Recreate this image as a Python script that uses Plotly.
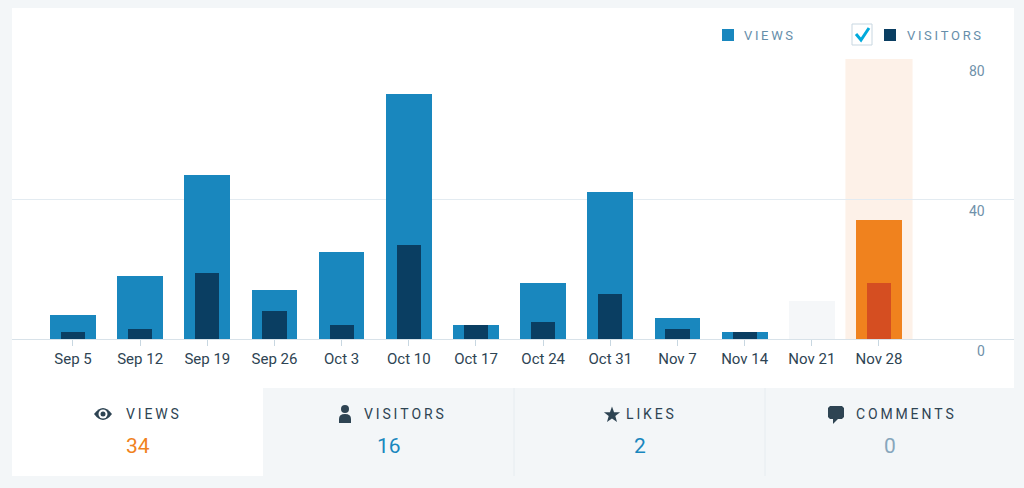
import math
import plotly.graph_objects as go

# --- данные ---
weeks = ['Sep 5', 'Sep 12', 'Sep 19', 'Sep 26', 'Oct 3', 'Oct 10', 'Oct 17',
         'Oct 24', 'Oct 31', 'Nov 7', 'Nov 14', 'Nov 21', 'Nov 28']
views = [7, 18, 47, 14, 25, 70, 4, 16, 42, 6, 2, 0, 34]
visitors = [2, 3, 19, 8, 4, 27, 4, 5, 13, 3, 2, 0, 16]
# пустая неделя показана бледной заглушкой
placeholder = [None, None, None, None, None, None, None, None, None, None, None, 11, None]
y_ticks = [0, 40, 80]
tab_labels = ['VIEWS', 'VISITORS', 'LIKES', 'COMMENTS']
tab_values = [34, 16, 2, 0]
highlight = 'Nov 28'

# --- цвета ---
BLUE = '#1987be'
NAVY = '#0a3e62'
ORANGE = '#f0821e'
RED = '#d54e21'
BG = '#f3f6f8'
DARK = '#2e4453'
GREY_TXT = '#87a6bc'
AXIS_TXT = '#6f91aa'

W, H = 1024, 488
L, R, T, B = 12, 10, 59, 149


def px(x):
    return (x - L) / (W - L - R)


def py(y):
    return (H - B - y) / (H - T - B)


def path(points, close=True):
    s = 'M' + ' L'.join(f'{px(x):.5f},{py(y):.5f}' for x, y in points)
    return s + (' Z' if close else '')


def spaced(t):
    return '\u2009'.join(t)


hi = weeks.index(highlight)
view_colors = [ORANGE if i == hi else BLUE for i in range(len(weeks))]
visitor_colors = [RED if i == hi else NAVY for i in range(len(weeks))]

fig = go.Figure()

fig.add_trace(go.Bar(x=weeks, y=placeholder, width=0.68, marker=dict(color='#f5f7f9', line=dict(width=0)),
                     showlegend=False, hoverinfo='skip'))
fig.add_trace(go.Bar(x=weeks, y=views, name='Views', width=0.68,
                     marker=dict(color=view_colors, line=dict(width=0)), showlegend=False))
fig.add_trace(go.Bar(x=weeks, y=visitors, name='Visitors', width=0.36,
                     marker=dict(color=visitor_colors, line=dict(width=0)), showlegend=False))

shapes = []
# белые панели
shapes.append(dict(type='rect', xref='paper', yref='paper', x0=px(12), x1=px(1014), y0=py(8), y1=py(388),
                   fillcolor='white', line=dict(width=0), layer='below'))
shapes.append(dict(type='rect', xref='paper', yref='paper', x0=px(12), x1=px(263), y0=py(388), y1=py(476),
                   fillcolor='white', line=dict(width=0), layer='below'))
for sx in [514, 765]:
    shapes.append(dict(type='line', xref='paper', yref='paper', x0=px(sx), x1=px(sx), y0=py(388), y1=py(476),
                       line=dict(color='#e6ecf0', width=1), layer='below'))
# подсветка текущей недели
shapes.append(dict(type='rect', xref='x', yref='paper', x0=hi - 0.5, x1=hi + 0.5, y0=0, y1=1,
                   fillcolor='#fdf1e8', line=dict(width=0), layer='below'))

# легенда
shapes.append(dict(type='rect', xref='paper', yref='paper', x0=px(722), x1=px(734), y0=py(41), y1=py(29),
                   fillcolor=BLUE, line=dict(width=0)))
shapes.append(dict(type='rect', xref='paper', yref='paper', x0=px(852), x1=px(872), y0=py(45), y1=py(24),
                   fillcolor='white', line=dict(color='#c8d7e1', width=1)))
shapes.append(dict(type='path', xref='paper', yref='paper', path=path([(856, 34), (861, 40), (869, 28)], close=False),
                   line=dict(color='#00aadc', width=3)))
shapes.append(dict(type='rect', xref='paper', yref='paper', x0=px(884), x1=px(896), y0=py(41), y1=py(29),
                   fillcolor=NAVY, line=dict(width=0)))

# иконки вкладок
eye = f'M{px(94):.5f},{py(414):.5f} Q{px(103):.5f},{py(402):.5f} {px(112):.5f},{py(414):.5f} ' \
      f'Q{px(103):.5f},{py(426):.5f} {px(94):.5f},{py(414):.5f} Z'
shapes.append(dict(type='path', xref='paper', yref='paper', path=eye, fillcolor=DARK, line=dict(width=0)))
shapes.append(dict(type='circle', xref='paper', yref='paper', x0=px(98.5), x1=px(107.5), y0=py(418.5), y1=py(409.5),
                   fillcolor='white', line=dict(width=0)))
shapes.append(dict(type='circle', xref='paper', yref='paper', x0=px(100.5), x1=px(105.5), y0=py(416.5), y1=py(411.5),
                   fillcolor=DARK, line=dict(width=0)))

shapes.append(dict(type='circle', xref='paper', yref='paper', x0=px(341), x1=px(349), y0=py(413), y1=py(405),
                   fillcolor=DARK, line=dict(width=0)))
body = f'M{px(339):.5f},{py(423):.5f} L{px(339):.5f},{py(419):.5f} Q{px(339):.5f},{py(414):.5f} ' \
       f'{px(345):.5f},{py(414):.5f} Q{px(351):.5f},{py(414):.5f} {px(351):.5f},{py(419):.5f} ' \
       f'L{px(351):.5f},{py(423):.5f} Z'
shapes.append(dict(type='path', xref='paper', yref='paper', path=body, fillcolor=DARK, line=dict(width=0)))

star_pts = []
for k in range(10):
    r = 8.5 if k % 2 == 0 else 3.5
    a = -math.pi / 2 + k * math.pi / 5
    star_pts.append((612 + r * math.cos(a), 415 + r * math.sin(a)))
shapes.append(dict(type='path', xref='paper', yref='paper', path=path(star_pts), fillcolor=DARK, line=dict(width=0)))

bubble = [(830, 406), (842, 406), (844, 408), (844, 417), (842, 419), (838, 419), (833, 424),
          (833, 419), (830, 419), (828, 417), (828, 408)]
shapes.append(dict(type='path', xref='paper', yref='paper', path=path(bubble), fillcolor=DARK, line=dict(width=0)))

annotations = [
    dict(text=spaced('VIEWS'), x=px(742), y=py(35), xanchor='left', yanchor='middle'),
    dict(text=spaced('VISITORS'), x=px(905), y=py(35), xanchor='left', yanchor='middle'),
]
for a in annotations:
    a.update(xref='paper', yref='paper', showarrow=False, font=dict(size=13, color='#668eaa'))

# подписи оси Y — под линиями сетки, справа
for t in y_ticks:
    annotations.append(dict(text=str(t), x=px(987), y=t, xref='paper', yref='y', showarrow=False,
                            xanchor='right', yanchor='middle', yshift=-12,
                            font=dict(size=14, color=AXIS_TXT)))

label_x = [152, 404, 650, 905]
value_x = [137.5, 388.5, 639.5, 889.5]
value_colors = [ORANGE, BLUE, BLUE, GREY_TXT]
for lab, val, lx, vx, vc in zip(tab_labels, tab_values, label_x, value_x, value_colors):
    annotations.append(dict(text=spaced(lab), x=px(lx), y=py(414), xref='paper', yref='paper', showarrow=False,
                            xanchor='center', yanchor='middle', font=dict(size=14, color=DARK)))
    annotations.append(dict(text=str(val), x=px(vx), y=py(446), xref='paper', yref='paper', showarrow=False,
                            xanchor='center', yanchor='middle', font=dict(size=21, color=vc)))

fig.update_layout(
    width=W, height=H, autosize=False,
    margin=dict(l=L, r=R, t=T, b=B),
    paper_bgcolor=BG, plot_bgcolor='white',
    barmode='overlay', bargap=0,
    font=dict(family='Roboto, sans-serif'),
    showlegend=False,
    shapes=shapes, annotations=annotations,
    xaxis=dict(type='category', range=[-0.908, 14.01], showgrid=False, zeroline=False,
               showline=True, linecolor='#d8e2e9', linewidth=1,
               ticks='outside', ticklen=6, tickcolor='#c8d7e1',
               tickfont=dict(size=15, color=DARK), fixedrange=True),
    yaxis=dict(range=[0, 80], tickvals=y_ticks, side='right', showgrid=True, gridcolor='#e3ebf1',
               zeroline=False, showline=False, ticks='', showticklabels=False, fixedrange=True),
)

# убираем отступ body, чтобы фигура совпала с окном
fig.write_html('out.html', config={'displayModeBar': False},
               post_script="document.body.style.margin='0px';")
